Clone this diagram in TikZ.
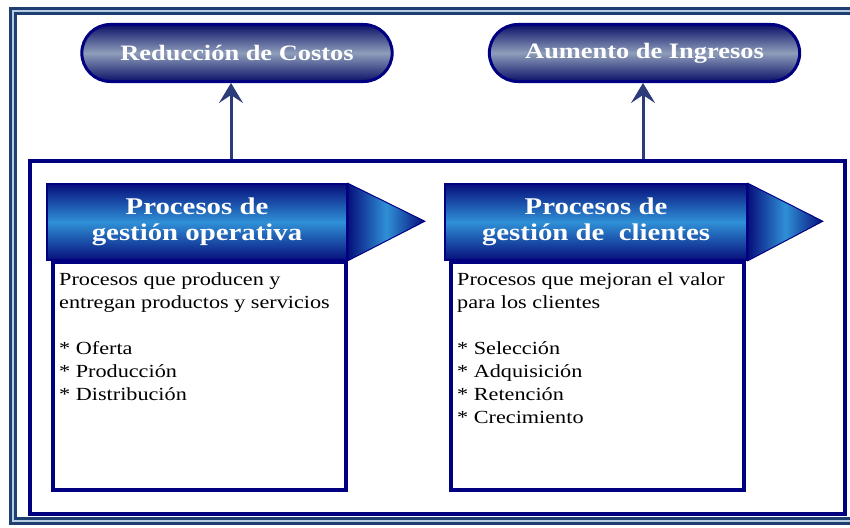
\documentclass[tikz,border=0pt]{standalone}
\usepackage{fontspec}
\setmainfont[FakeStretch=1.2]{Liberation Serif}
\usetikzlibrary{shapes.misc,arrows.meta}

\definecolor{bordernavy}{HTML}{000080}
\definecolor{framedark}{HTML}{1F3F70}
\definecolor{framelight}{HTML}{B8CCE4}
\definecolor{liftblue}{HTML}{2C3B7A}
\definecolor{pilldark}{HTML}{0C1168}
\definecolor{pillmid}{HTML}{8E9DBA}
\definecolor{hdrdark}{HTML}{070F7C}
\definecolor{hdrmid}{HTML}{2F90D6}

\tikzset{
  goal/.style={rounded rectangle, draw=bordernavy, line width=3pt,
    minimum width=317pt, minimum height=57pt,
    top color=pilldark, bottom color=pilldark, middle color=pillmid,
    text=white, font=\fontsize{22}{26}\selectfont\bfseries},
  header/.style={rectangle, draw=bordernavy, line width=1.5pt,
    minimum width=300pt, minimum height=76pt,
    top color=hdrdark, bottom color=hdrdark, middle color=hdrmid,
    text=white, align=center, font=\fontsize{24}{26}\selectfont\bfseries},
  tip/.style={draw=bordernavy, line width=1pt,
    left color=hdrdark, right color=hdrdark, middle color=hdrmid},
  body/.style={rectangle, draw=bordernavy, line width=4pt, fill=white,
    minimum width=293pt, minimum height=228pt},
  bodytext/.style={anchor=north west, align=left, inner sep=0pt,
    font=\fontsize{18.5}{23}\selectfont},
  lift/.style={draw=liftblue, line width=3pt,
    -{Stealth[length=20pt,width=24pt,inset=8pt]}}
}

\begin{document}
\begin{tikzpicture}[x=1pt,y=-1pt]
    \useasboundingbox (0,0) rectangle (850,527);

    % Outer frame
    \draw[framedark, line width=8pt] (13,11) rectangle (870,521);
    \draw[framelight, line width=2pt] (13,11) rectangle (870,521);

    % Container
    \node[rectangle, draw=bordernavy, line width=3.5pt,
      minimum width=815pt, minimum height=353pt] (cont) at (437.5,337.5) {};

    % Goals
    \node[goal] (costos) at (237,53) {Reducción de Costos};
    \node[goal] (ingresos) at (644.5,53) {Aumento de Ingresos};

    % Arrows up to the goals
    \draw[lift] ([xshift=-6pt]costos.south |- cont.north) -- ([xshift=-6pt]costos.south);
    \draw[lift] ([xshift=-1.5pt]ingresos.south |- cont.north) -- ([xshift=-1.5pt]ingresos.south);

    % Process bodies
    \node[body] (opbody) at (199,376) {};
    \node[body] (clbody) at (597.75,376) {};

    % Process headers
    \node[header] (ophdr) at (197,222) {Procesos de\\gestión operativa};
    \node[header, minimum width=302pt] (clhdr) at (596,222) {Procesos de\\gestión de\ \ clientes};
    \shade[tip] (ophdr.north east) -- ++(77,38) -- (ophdr.south east) -- cycle;
    \shade[tip] (clhdr.north east) -- ++(75,38) -- (clhdr.south east) -- cycle;

    % Texts in the bodies
    \node[bodytext] (optxt) at (59,272) {Procesos que producen y\\
      entregan productos y servicios\\[23pt]
      * Oferta\\* Producción\\* Distribución};
    \node[bodytext] (cltxt) at (457,272) {Procesos que mejoran el valor\\
      para los clientes\\[23pt]
      * Selección\\* Adquisición\\* Retención\\* Crecimiento};
\end{tikzpicture}
\end{document}
